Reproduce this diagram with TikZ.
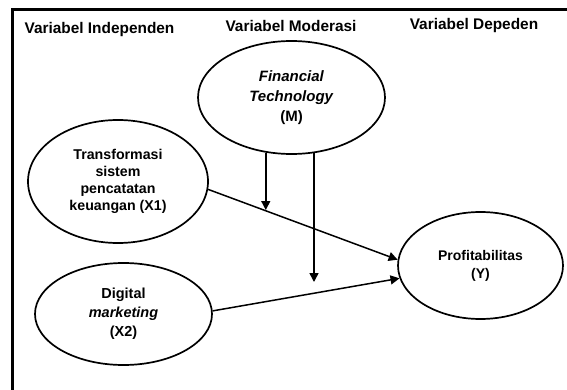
\documentclass[tikz,border=0pt]{standalone}
\usepackage{fontspec}
\setmainfont{Liberation Sans}
\usetikzlibrary{shapes.geometric}
\usetikzlibrary{arrows.meta}

\begin{document}
\begin{tikzpicture}[x=1pt,y=-1pt,
	var/.style={ellipse,draw,line width=1.7pt,inner sep=0pt,align=center},
	head/.style={inner sep=0pt,font=\fontsize{15.4}{18}\selectfont\bfseries},
	arr/.style={line width=1.5pt,-{Triangle[length=9pt,width=9pt]}}]

	\useasboundingbox (0,0) rectangle (567,390);
	\draw[line width=3pt] (12,390) -- (12,10) -- (567,10);

	% Headings
	\node[head] (hind) at (99.5,30) {Variabel Independen};
	\node[head] (hmod) at (291,26) {Variabel Moderasi};
	\node[head] (hdep) at (474,26) {Variabel Depeden};

	% Place nodes
	\node[var,minimum width=187pt,minimum height=113pt,font=\fontsize{15}{20}\selectfont\bfseries]
		(m) at (291.5,97.5) {\textit{Financial}\\\textit{Technology}\\(M)};
	\node[var,minimum width=180pt,minimum height=123pt,font=\fontsize{14.2}{17}\selectfont\bfseries]
		(x1) at (118,181.5) {Transformasi\\sistem\\pencatatan\\keuangan (X1)};
	\node[var,minimum width=177pt,minimum height=102pt,font=\fontsize{14.5}{19}\selectfont\bfseries]
		(x2) at (123.5,314) {Digital\\\textit{marketing}\\(X2)};
	\node[var,minimum width=165pt,minimum height=107pt,font=\fontsize{14}{18}\selectfont\bfseries]
		(y) at (480.5,265.5) {Profitabilitas\\(Y)};

	% Arrows
	\coordinate (t1) at (266,210);
	\coordinate (t2) at (313,282);
	\draw[arr] (x1.-5) -- (y.176);
	\draw[arr] (x2.2) -- (y.189.5);
	\draw[arr] (m.-115) -- (m.-115 |- t1);
	\draw[arr] (m.-68.6) -- (m.-68.6 |- t2);
\end{tikzpicture}
\end{document}
